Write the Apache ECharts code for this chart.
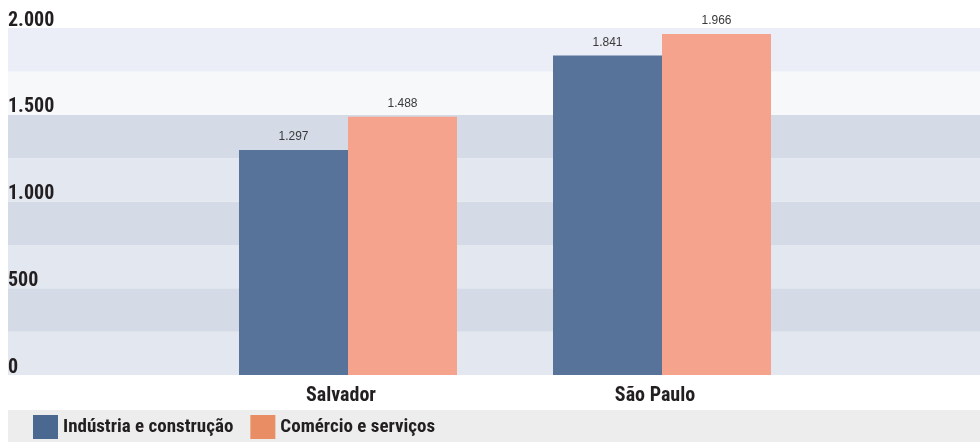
<!DOCTYPE html>
<html>
<head>
<meta charset="utf-8">
<script src="https://cdn.jsdelivr.net/npm/echarts@6/dist/echarts.min.js"></script>
<style>html,body{margin:0;padding:0;background:#fff}#c{width:980px;height:442px}</style>
</head>
<body>
<div id="c"></div>
<script>
var categories = ['Salvador', 'São Paulo'];
var seriesNames = ['Indústria e construção', 'Comércio e serviços'];
var industria = [1297, 1841];
var comercio = [1488, 1966];
var yTicks = [0, 500, 1000, 1500, 2000];

function fmt(v) {
  return String(v).replace(/\B(?=(\d{3})+(?!\d))/g, '.');
}

var chart = echarts.init(document.getElementById('c'), null, {renderer: 'canvas'});
var condensed = '"Roboto Condensed", "DejaVu Sans Condensed", sans-serif';
var barColors = ['#577399', '#F5A38C'];
var legendColors = ['#4A6890', '#E98D64'];
var ink = '#231F20';

var valueLabel = {
  show: true, position: 'top', distance: 7,
  fontFamily: '"Liberation Sans", Arial, sans-serif',
  fontSize: 12, color: '#3A3A3A',
  formatter: function (p) { return fmt(p.value); }
};

var option = {
  animation: false,
  backgroundColor: '#ffffff',
  graphic: [{
    type: 'rect', z: -10, silent: true,
    shape: {x: 8, y: 410, width: 972, height: 32},
    style: {fill: '#EDEDED'}
  }],
  legend: {
    left: 33, top: 415, padding: 0,
    itemWidth: 25, itemHeight: 24, itemGap: 17,
    icon: 'rect',
    textStyle: {fontFamily: condensed, fontWeight: 'bold', fontSize: 19, color: ink},
    data: seriesNames.map(function (n, i) { return {name: n, itemStyle: {color: legendColors[i]}}; })
  },
  grid: [
    {left: 8, right: 0, top: 28, bottom: 67},
    {left: 191, right: 161, top: 28, bottom: 67}
  ],
  xAxis: [
    {gridIndex: 0, type: 'value', min: 0, max: 1, show: false},
    {gridIndex: 1, type: 'category', data: categories,
     axisLine: {show: false}, axisTick: {show: false},
     axisLabel: {margin: 11, fontFamily: condensed, fontWeight: 'bold', fontSize: 20,
                 lineHeight: 20, color: ink, padding: [0, 14, 0, 0]}}
  ],
  yAxis: [
    {gridIndex: 0, type: 'value', min: 0, max: 2000, interval: 250,
     axisLine: {show: false}, axisTick: {show: false},
     splitLine: {show: false},
     splitArea: {show: true, areaStyle: {color: ['#E3E7F0', '#D4DAE6', '#E3E7F0', '#D4DAE6', '#E3E7F0', '#D4DAE6', '#F7F8FA', '#EBEEF6']}},
     axisLabel: {inside: true, margin: 0, align: 'left', verticalAlign: 'bottom',
                 lineHeight: 15, fontFamily: condensed, fontWeight: 'bold', fontSize: 20, color: ink,
                 formatter: function (v) { return yTicks.indexOf(v) >= 0 ? fmt(v) : ''; }}},
    {gridIndex: 1, type: 'value', min: 0, max: 2000, interval: 250, show: false}
  ],
  series: [
    {name: seriesNames[0], type: 'bar', xAxisIndex: 1, yAxisIndex: 1, data: industria,
     barWidth: 109, barGap: '0%', itemStyle: {color: barColors[0]}, label: valueLabel},
    {name: seriesNames[1], type: 'bar', xAxisIndex: 1, yAxisIndex: 1, data: comercio,
     barWidth: 109, barGap: '0%', itemStyle: {color: barColors[1]}, label: valueLabel}
  ]
};
chart.setOption(option);
</script>
</body>
</html>
